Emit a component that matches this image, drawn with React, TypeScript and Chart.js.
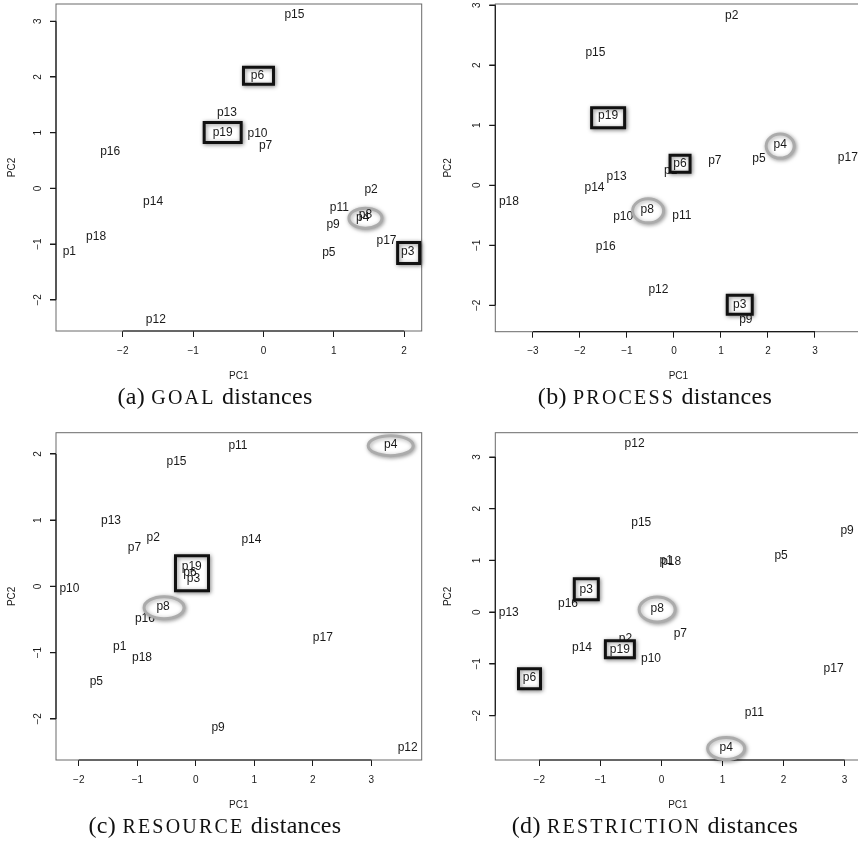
import React, { useEffect, useRef } from "react";
import { Chart, registerables } from "chart.js";

Chart.register(...registerables);

// ---------- data ----------
const pointLabels = [
  "p1", "p2", "p3", "p4", "p5", "p6", "p7", "p8", "p9", "p10",
  "p11", "p12", "p13", "p14", "p15", "p16", "p17", "p18", "p19",
];

// (a) GOAL distances
const goalPC1 = [-2.76, 1.53, 2.05, 1.41, 0.93, -0.085, 0.03, 1.45, 0.99, -0.085, 1.08, -1.53, -0.52, -1.57, 0.44, -2.18, 1.75, -2.38, -0.58];
const goalPC2 = [-1.13, -0.02, -1.14, -0.52, -1.15, 2.02, 0.77, -0.48, -0.65, 0.99, -0.34, -2.35, 1.35, -0.23, 3.11, 0.66, -0.93, -0.86, 1.005];
const goalXRange = [-2.95, 2.25];
const goalYRange = [-2.56, 3.31];
const goalXTicks = [-2, -1, 0, 1, 2];
const goalYTicks = [-2, -1, 0, 1, 2, 3];

// (b) PROCESS distances
const processPC1 = [-0.07, 1.23, 1.4, 2.26, 1.81, 0.13, 0.87, -0.57, 1.53, -1.08, 0.17, -0.33, -1.22, -1.69, -1.67, -1.45, 3.7, -3.51, -1.4];
const processPC2 = [0.24, 2.83, -1.99, 0.67, 0.44, 0.36, 0.41, -0.41, -2.24, -0.53, -0.51, -1.74, 0.15, -0.04, 2.21, -1.02, 0.46, -0.28, 1.16];
const processXRange = [-3.8, 3.99];
const processYRange = [-2.44, 3.02];
const processXTicks = [-3, -2, -1, 0, 1, 2, 3];
const processYTicks = [-2, -1, 0, 1, 2, 3];

// (c) RESOURCE distances
const resourcePC1 = [-1.3, -0.73, -0.04, 3.33, -1.7, -0.1, -1.05, -0.56, 0.38, -2.16, 0.72, 3.62, -1.45, 0.95, -0.33, -0.87, 2.17, -0.92, -0.07];
const resourcePC2 = [-0.91, 0.74, 0.11, 2.14, -1.44, 0.2, 0.58, -0.3, -2.13, -0.03, 2.13, -2.43, 0.99, 0.71, 1.89, -0.48, -0.78, -1.07, 0.3];
const resourceXRange = [-2.39, 3.86];
const resourceYRange = [-2.62, 2.32];
const resourceXTicks = [-2, -1, 0, 1, 2, 3];
const resourceYTicks = [-2, -1, 0, 1, 2];

// (d) RESTRICTION distances
const restrictionPC1 = [0.08, -0.59, -1.23, 1.06, 1.96, -2.16, 0.31, -0.07, 3.04, -0.17, 1.52, -0.44, -2.5, -1.3, -0.33, -1.53, 2.82, 0.16, -0.68];
const restrictionPC2 = [0.99, -0.51, 0.44, -2.62, 1.1, -1.27, -0.41, 0.07, 1.57, -0.91, -1.94, 3.25, -0.01, -0.68, 1.73, 0.17, -1.1, 0.98, -0.72];
const restrictionXRange = [-2.72, 3.26];
const restrictionYRange = [-2.86, 3.47];
const restrictionXTicks = [-2, -1, 0, 1, 2, 3];
const restrictionYTicks = [-2, -1, 0, 1, 2, 3];

// highlight annotations (hand-drawn marks), anchored on a label
type Mark = { shape: "box" | "ellipse"; anchor: string; w: number; h: number; dx: number; dy: number; labels: string[] };

const goalMarks: Mark[] = [
  { shape: "box", anchor: "p6", w: 30, h: 17, dx: 1, dy: 0, labels: ["p6"] },
  { shape: "box", anchor: "p19", w: 37, h: 20, dx: 0, dy: 0, labels: ["p19"] },
  { shape: "box", anchor: "p3", w: 22, h: 21, dx: 1, dy: 1, labels: ["p3"] },
  { shape: "ellipse", anchor: "p8", w: 33, h: 20, dx: 0, dy: 3, labels: ["p8", "p4"] },
];
const processMarks: Mark[] = [
  { shape: "box", anchor: "p19", w: 33, h: 20, dx: 0, dy: 2, labels: ["p19"] },
  { shape: "box", anchor: "p6", w: 20, h: 17, dx: 0, dy: 0, labels: ["p6"] },
  { shape: "box", anchor: "p3", w: 25, h: 19, dx: 0, dy: 0, labels: ["p3"] },
  { shape: "ellipse", anchor: "p4", w: 28, h: 24, dx: 0, dy: 1, labels: ["p4"] },
  { shape: "ellipse", anchor: "p8", w: 31, h: 24, dx: 1, dy: 1, labels: ["p8"] },
];
const resourceMarks: Mark[] = [
  { shape: "box", anchor: "p6", w: 33, h: 35, dx: 2, dy: 0, labels: ["p19", "p6", "p3"] },
  { shape: "ellipse", anchor: "p4", w: 45, h: 20, dx: 0, dy: 1, labels: ["p4"] },
  { shape: "ellipse", anchor: "p8", w: 40, h: 22, dx: 1, dy: 1.4, labels: ["p8"] },
];
const restrictionMarks: Mark[] = [
  { shape: "box", anchor: "p3", w: 24, h: 21, dx: 0, dy: 0, labels: ["p3"] },
  { shape: "box", anchor: "p19", w: 29, h: 17, dx: 0, dy: 0, labels: ["p19"] },
  { shape: "box", anchor: "p6", w: 22, h: 20, dx: 0, dy: 1, labels: ["p6"] },
  { shape: "ellipse", anchor: "p8", w: 36, h: 25, dx: 0, dy: 1, labels: ["p8"] },
  { shape: "ellipse", anchor: "p4", w: 37, h: 22, dx: 0, dy: 1, labels: ["p4"] },
];

// ---------- layout / style ----------
const SANS = '"Liberation Sans", Arial, Helvetica, sans-serif';
const SERIF = '"Liberation Serif", "Times New Roman", serif';
const INK = "#1a1a1a";

type Layout = { left: number; top: number; w: number; h: number; l: number; t: number; r: number; b: number; yTitleGap: number };

const fmt = (v: number) => (v < 0 ? "\u2212" + Math.abs(v) : String(v));

const marksPlugin = (cfg: any) => ({
  id: "marks",
  afterDraw(chart: any) {
    const ctx: CanvasRenderingContext2D = chart.ctx;
    const xs = chart.scales.x;
    const ys = chart.scales.y;
    const { left, right, top, bottom } = chart.chartArea;
    ctx.save();
    // plot box
    ctx.strokeStyle = "#6a6a6a";
    ctx.lineWidth = 1;
    ctx.strokeRect(left, top, right - left, bottom - top);
    // axis lines (first to last tick) and y tick marks
    ctx.strokeStyle = INK;
    ctx.lineWidth = 1.2;
    ctx.beginPath();
    ctx.moveTo(xs.getPixelForValue(cfg.xTicks[0]), bottom);
    ctx.lineTo(xs.getPixelForValue(cfg.xTicks[cfg.xTicks.length - 1]), bottom);
    ctx.moveTo(left, ys.getPixelForValue(cfg.yTicks[0]));
    ctx.lineTo(left, ys.getPixelForValue(cfg.yTicks[cfg.yTicks.length - 1]));
    for (const v of cfg.yTicks) {
      const py = ys.getPixelForValue(v);
      ctx.moveTo(left - 6, py);
      ctx.lineTo(left, py);
    }
    ctx.stroke();
    // rotated y tick labels
    ctx.fillStyle = INK;
    ctx.font = `10px ${SANS}`;
    ctx.textAlign = "center";
    ctx.textBaseline = "middle";
    for (const v of cfg.yTicks) {
      ctx.save();
      ctx.translate(left - 18, ys.getPixelForValue(v));
      ctx.rotate(-Math.PI / 2);
      ctx.fillText(fmt(v), 0, 0);
      ctx.restore();
    }
    // point labels
    ctx.font = `12px ${SANS}`;
    const pos = (name: string) => {
      const i = pointLabels.indexOf(name);
      return [xs.getPixelForValue(cfg.x[i]), ys.getPixelForValue(cfg.y[i])];
    };
    pointLabels.forEach((name) => {
      const [px, py] = pos(name);
      ctx.fillText(name, px, py);
    });
    // highlight marks
    for (const m of cfg.marks as Mark[]) {
      const [ax, ay] = pos(m.anchor);
      const cx = ax + m.dx;
      const cy = ay + m.dy;
      ctx.save();
      ctx.shadowColor = "rgba(0,0,0,0.35)";
      ctx.shadowBlur = 4;
      ctx.shadowOffsetX = 1;
      ctx.shadowOffsetY = 1;
      ctx.beginPath();
      if (m.shape === "box") {
        ctx.rect(cx - m.w / 2, cy - m.h / 2, m.w, m.h);
        ctx.fillStyle = "#fff";
        ctx.fill();
        ctx.shadowColor = "rgba(0,0,0,0.45)";
        ctx.strokeStyle = "#111";
        ctx.lineWidth = 3;
      } else {
        ctx.ellipse(cx, cy, m.w / 2, m.h / 2, 0, 0, Math.PI * 2);
        ctx.fillStyle = "#fff";
        ctx.fill();
        ctx.strokeStyle = "#ababab";
        ctx.lineWidth = 3;
      }
      ctx.stroke();
      ctx.restore();
      ctx.fillStyle = INK;
      for (const n of m.labels) {
        const [px, py] = pos(n);
        ctx.fillText(n, px, py);
      }
    }
    ctx.restore();
  },
});

function Panel(props: { cfg: any; layout: Layout }) {
  const ref = useRef<HTMLCanvasElement>(null);
  const { cfg, layout: L } = props;
  useEffect(() => {
    const canvas = ref.current!;
    const Hx = 56;
    const Wy = L.yTitleGap + 6;
    const chart = new Chart(canvas, {
      type: "scatter",
      data: {
        datasets: [
          {
            data: cfg.x.map((x: number, i: number) => ({ x, y: cfg.y[i] })),
            pointRadius: 0,
            borderWidth: 0,
            backgroundColor: "transparent",
          },
        ],
      },
      options: {
        animation: false,
        responsive: false,
        events: [],
        layout: { padding: { left: L.l - Wy, top: L.t, right: L.w - L.r, bottom: L.h - L.b - Hx } },
        plugins: { legend: { display: false }, tooltip: { enabled: false } },
        scales: {
          x: {
            type: "linear",
            min: cfg.xRange[0],
            max: cfg.xRange[1],
            afterBuildTicks: (s: any) => {
              s.ticks = cfg.xTicks.map((v: number) => ({ value: v }));
            },
            afterFit: (s: any) => {
              s.height = Hx;
              s.paddingLeft = 0;
              s.paddingRight = 0;
            },
            grid: { drawOnChartArea: false, drawTicks: true, tickLength: 6, color: INK, lineWidth: 1 },
            border: { display: false },
            ticks: {
              font: { family: SANS, size: 10 },
              color: INK,
              padding: 8,
              maxRotation: 0,
              minRotation: 0,
              autoSkip: false,
              callback: (v: any) => fmt(Number(v)),
            },
            title: { display: true, text: "PC1", font: { family: SANS, size: 10 }, color: INK, padding: { top: 0, bottom: 5 } },
          },
          y: {
            type: "linear",
            min: cfg.yRange[0],
            max: cfg.yRange[1],
            afterBuildTicks: (s: any) => {
              s.ticks = cfg.yTicks.map((v: number) => ({ value: v }));
            },
            afterFit: (s: any) => {
              s.width = Wy;
              s.paddingTop = 0;
              s.paddingBottom = 0;
            },
            grid: { drawOnChartArea: false, drawTicks: true, tickLength: 6, color: INK, lineWidth: 1 },
            border: { display: false },
            ticks: { display: false },
            title: { display: true, text: "PC2", font: { family: SANS, size: 10 }, color: INK, padding: { top: 0, bottom: 0 } },
          },
        },
      } as any,
      plugins: [marksPlugin(cfg)],
    });
    return () => chart.destroy();
  }, []);
  return (
    <canvas
      ref={ref}
      width={L.w}
      height={L.h}
      style={{ position: "absolute", left: L.left, top: L.top, width: L.w, height: L.h }}
    />
  );
}

const panels = [
  {
    cfg: { x: goalPC1, y: goalPC2, xRange: goalXRange, yRange: goalYRange, xTicks: goalXTicks, yTicks: goalYTicks, marks: goalMarks },
    layout: { left: 0, top: 0, w: 430, h: 390, l: 56, t: 4, r: 421.7, b: 331, yTitleGap: 43.3 },
    tag: "(a)", sc: "GOAL", cx: 215, base: 404,
  },
  {
    cfg: { x: processPC1, y: processPC2, xRange: processXRange, yRange: processYRange, xTicks: processXTicks, yTicks: processYTicks, marks: processMarks },
    layout: { left: 430, top: 0, w: 440, h: 390, l: 65.3, t: 4, r: 431.5, b: 331.7, yTitleGap: 46.6 },
    tag: "(b)", sc: "PROCESS", cx: 655, base: 404,
  },
  {
    cfg: { x: resourcePC1, y: resourcePC2, xRange: resourceXRange, yRange: resourceYRange, xTicks: resourceXTicks, yTicks: resourceYTicks, marks: resourceMarks },
    layout: { left: 0, top: 428, w: 430, h: 390, l: 56, t: 4.7, r: 421.7, b: 332, yTitleGap: 43.3 },
    tag: "(c)", sc: "RESOURCE", cx: 215, base: 833,
  },
  {
    cfg: { x: restrictionPC1, y: restrictionPC2, xRange: restrictionXRange, yRange: restrictionYRange, xTicks: restrictionXTicks, yTicks: restrictionYTicks, marks: restrictionMarks },
    layout: { left: 430, top: 428, w: 440, h: 390, l: 65.3, t: 4.7, r: 430.5, b: 332, yTitleGap: 46.6 },
    tag: "(d)", sc: "RESTRICTION", cx: 655, base: 833,
  },
];

export default function App() {
  return (
    <div style={{ position: "fixed", left: 0, top: 0, width: 858, height: 848, overflow: "hidden", background: "#fff" }}>
      {panels.map((p, i) => (
        <Panel key={i} cfg={p.cfg} layout={p.layout as Layout} />
      ))}
      {panels.map((p, i) => (
        <div
          key={"c" + i}
          style={{
            position: "absolute",
            left: p.cx - 200,
            width: 400,
            top: p.base - 20.1,
            height: 24,
            lineHeight: "24px",
            textAlign: "center",
            fontFamily: SERIF,
            fontSize: 24,
            letterSpacing: "0.3px",
            color: "#111",
            whiteSpace: "nowrap",
          }}
        >
          {p.tag} <span style={{ fontSize: 20, letterSpacing: "2.2px" }}>{p.sc}</span> distances
        </div>
      ))}
    </div>
  );
}
